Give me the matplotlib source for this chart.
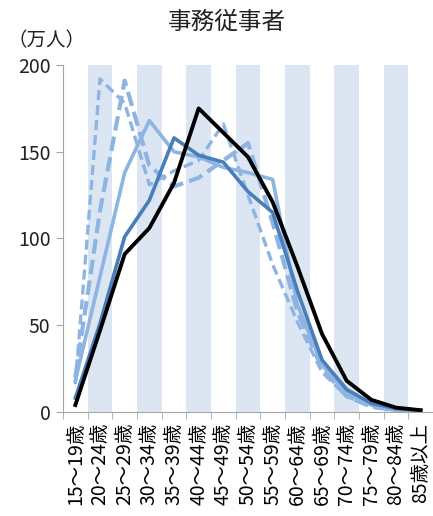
import matplotlib
matplotlib.use("Agg")
import matplotlib.pyplot as plt
import numpy as np

plt.rcParams['font.family'] = ['Noto Sans CJK JP', 'DejaVu Sans']

ages = ["15～19歳", "20～24歳", "25～29歳", "30～34歳", "35～39歳",
        "40～44歳", "45～49歳", "50～54歳", "55～59歳", "60～64歳",
        "65～69歳", "70～74歳", "75～79歳", "80～84歳", "85歳以上"]

# series (万人)
dash_thin = [16, 192, 178, 131, 139, 145, 166, 125, 85, 52, 23, 9, 3, 1, 0.5]
dash_thick = [20, 116, 191, 142, 130, 135, 145, 155, 109, 58, 25, 9, 3, 1, 0.5]
solid_light = [18, 78, 138, 168, 150, 147, 141, 138, 134, 62, 27, 11, 4, 1.5, 0.5]
solid_dark = [8, 51, 101, 122, 158, 148, 144, 127, 115, 70, 30, 13, 5, 2, 1]
solid_black = [4, 47, 91, 106, 132, 175, 161, 147, 121, 84, 45, 18, 7, 2.5, 1]

x = np.arange(len(ages))

fig = plt.figure(figsize=(4.33, 5.16), dpi=100)
ax = fig.add_axes([0.1455, 0.2016, 0.8545, 0.6724])

for i in x:
    if i % 2 == 1:
        ax.axvspan(i - 0.5, i + 0.5, color="#dce6f2", zorder=0, lw=0)

light = "#8db4e2"
ax.plot(x, dash_thin, color=light, lw=2.4, ls=(0, (3, 1.5)), zorder=2)
ax.plot(x, dash_thick, color=light, lw=3.0, ls=(0, (3.5, 1.5)), zorder=2)
ax.plot(x, solid_light, color=light, lw=2.6, zorder=3)
ax.plot(x, solid_dark, color="#4a7ebb", lw=2.6, zorder=4)
ax.plot(x, solid_black, color="black", lw=2.8, zorder=5)

ax.set_xlim(-0.5, 14.5)
ax.set_ylim(0, 200)
ax.set_yticks([0, 50, 100, 150, 200])
ax.tick_params(axis="y", labelsize=14, length=5, color="#a6a6a6", pad=4,
               labelcolor="#222222")

ax.set_xticks(x)
ax.set_xticklabels(ages, rotation=90, fontsize=14)
ax.set_xticks(np.arange(-0.5, 15, 1), minor=True)
ax.tick_params(axis="x", which="major", length=0, pad=8)
ax.tick_params(axis="x", which="minor", length=5, color="#a6a6a6")

for s in ["top", "right"]:
    ax.spines[s].set_visible(False)
for s in ["left", "bottom"]:
    ax.spines[s].set_color("#a6a6a6")
ax.spines["bottom"].set_zorder(6)

fig.text(0.525, 0.957, "事務従事者", ha="center", va="center", fontsize=17,
         color="#222222")
fig.text(0.108, 0.922, "（万人）", ha="center", va="center", fontsize=14,
         color="#222222")

fig.savefig("out.png", dpi=100)
